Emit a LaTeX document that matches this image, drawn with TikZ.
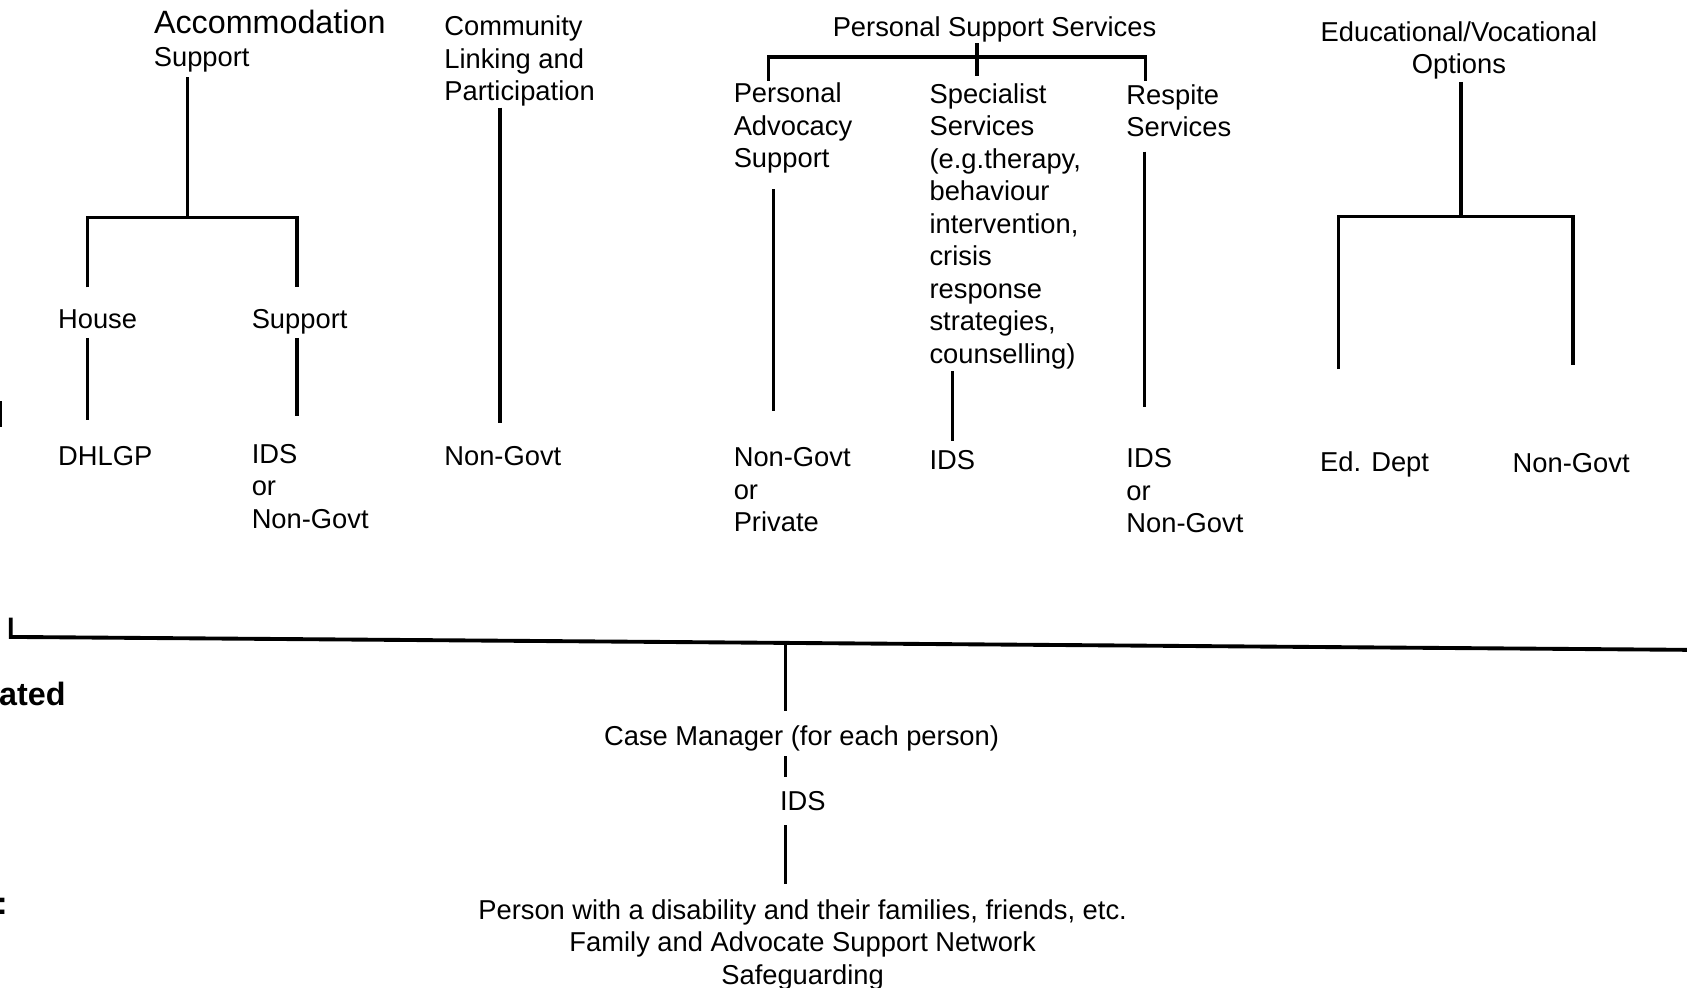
\documentclass[tikz,border=0pt]{standalone}
\usepackage{fontspec}
\setmainfont{Liberation Sans}
\begin{document}
\begin{tikzpicture}[x=1pt,y=-1pt,
  lbl/.style={font=\fontsize{25.4}{30.2}\selectfont, inner sep=0pt, outer sep=0pt, align=left, anchor=north west, execute at begin node=\strut},
  ctr/.style={lbl, align=center, anchor=north},
  big/.style={font=\fontsize{30}{36}\selectfont, inner sep=0pt, anchor=base west},
  cut/.style={font=\fontsize{30}{36}\selectfont\bfseries, inner sep=0pt, anchor=base west},
  conn/.style={line width=3pt, draw=black},
  thick conn/.style={line width=4pt, draw=black},
  bus/.style={line width=3.6pt, draw=black}]
\useasboundingbox (0,0) rectangle (1568,918);
\fill[white] (0,0) rectangle (1568,918);

% ---------------- Accommodation Support ----------------
\node[big] (acc) at (143,31.5) {Accommodation};
\node[lbl] (accsub) at (143,40.4) {Support};
\node[lbl] (house) at (54,284) {House};
\node[lbl] (asup) at (234,284) {Support};
\node[lbl] (dhlgp) at (54,411.5) {DHLGP};
\node[lbl] (aids) at (234,413) {IDS\\or\\Non-Govt};

\coordinate (aJ) at (174,202);
\coordinate (aL) at (81,267);
\coordinate (aR) at (276,267);
\coordinate (aL2) at (81,314);
\coordinate (aL3) at (81,390);
\coordinate (aR2) at (276,314);
\coordinate (aR3) at (276,387);
\draw[conn] (174,72) -- (aJ);
\draw[conn] (aL) |- (aJ) -| (aR);
\draw[conn] (aL2) -- (aL3);
\draw[conn] (aR2) -- (aR3);

% ---------------- Community ----------------
\node[lbl] (comm) at (413,15) {Community\\Linking and\\Participation};
\node[lbl] (cng) at (413,411.5) {Non-Govt};
\coordinate (cT) at (465,100);
\coordinate (cB) at (465,393);
\draw[thick conn] (cT) -- (cB);

% ---------------- Personal Support Services ----------------
\node[lbl] (pss) at (774,13) {Personal Support Services};
\node[lbl] (pas) at (682,77) {Personal\\Advocacy\\Support};
\node[lbl] (spec) at (864,77.5) {Specialist\\Services\\(e.g.therapy,\\behaviour\\intervention,\\crisis\\response\\strategies,\\counselling)};
\node[lbl] (resp) at (1047,78.5) {Respite\\Services};
\node[lbl] (png) at (682,416) {Non-Govt\\or\\Private};
\node[lbl] (sids) at (864,415) {IDS};
\node[lbl] (rids) at (1047,417) {IDS\\or\\Non-Govt};

\coordinate (pT) at (908,40);
\coordinate (pB) at (908,71);
\coordinate (pL) at (714,75);
\coordinate (pR) at (1065,75);
\draw[conn] (pT) -- (pB);
\draw[conn] (pL) |- (pT |- 0,53) -| (pR);
\draw[conn] (719,176) -- (719,382);
\draw[conn] (885,345) -- (885,410);
\draw[conn] (1064,141) -- (1064,378);

% ---------------- Educational/Vocational ----------------
\node[ctr] (edu) at (1356,20) {Educational/Vocational\\Options};
\node[lbl] (eddept) at (1227,417.5) {Ed. Dept};
\node[lbl] (eng) at (1406,418) {Non-Govt};
\coordinate (eJ) at (1358,201);
\coordinate (eL) at (1244,343);
\coordinate (eR) at (1462,339);
\draw[conn] (1358,76) -- (eJ);
\draw[conn] (eL) |- (eJ) -| (eR);

% ---------------- Bottom ----------------
\coordinate (busL) at (10,592);
\coordinate (busR) at (1568,604);
\draw[bus] (10,574) -- (busL) -- (busR);
\draw[line width=2.5pt] (1,373) -- (1,397);

\node[cut] (ated) at (-1,656) {ated};
\node[cut] (colon) at (-3,850) {:};

\node[ctr] (cm) at (745,672) {Case Manager (for each person)};
\node[lbl] (ids2) at (725,732.5) {IDS};
\node[ctr] (person) at (746,836) {Person with a disability and their families, friends, etc.\\Family and Advocate Support Network\\Safeguarding};

\draw[conn] (730,599) -- (730,661);
\draw[conn] (730,703) -- (730,722);
\draw[conn] (730,767) -- (730,822);
\end{tikzpicture}
\end{document}
